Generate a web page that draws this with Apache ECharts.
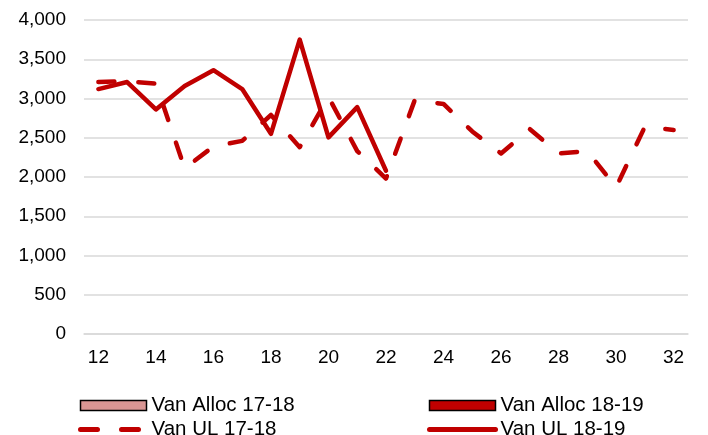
<!DOCTYPE html>
<html lang="en" style="height: 100%">
    <head>
        <meta charset="utf-8">
        <title>Van UL</title>
    </head>
    <body style="height: 100%; margin: 0; background: #fff">
        <div id="container" style="width: 708px; height: 435px"></div>
        <script src="https://cdn.jsdelivr.net/npm/echarts@6/dist/echarts.min.js"></script>
        <script>
            let weeks = ["12", "13", "14", "15", "16", "17", "18", "19", "20", "21", "22",
                "23", "24", "25", "26", "27", "28", "29", "30", "31", "32"];
            let vanUL1718 = [3210, 3220, 3190, 2110, 2390, 2460, 2790, 2380, 3020, 2330, 1980,
                2980, 2930, 2580, 2300, 2610, 2300, 2330, 1870, 2640, 2600];
            let vanUL1819 = [3120, 3210, 2860, 3160, 3360, 3120, 2550, 3750, 2505, 2890, 2080,
                null, null, null, null, null, null, null, null, null, null];
            let vanAlloc1718 = [];
            let vanAlloc1819 = [];

            let red = "#c00000";
            let font = "Liberation Sans, Arial, sans-serif";

            let dom = document.getElementById("container");
            let chart = echarts.init(dom, null, { renderer: "canvas" });

            let legendText = { fontSize: 20.5, fontFamily: font, color: "#000", lineHeight: 20 };

            function legendBlock(left, alloc, ul, allocColor, dash) {
                return {
                    orient: "vertical",
                    left: left,
                    top: 395,
                    height: 120,
                    padding: 0,
                    itemWidth: 66,
                    itemHeight: 10,
                    itemGap: 3,
                    textStyle: legendText,
                    data: [
                        { name: alloc, icon: "rect",
                          itemStyle: { color: allocColor, borderColor: "#000", borderWidth: 1.5 } },
                        { name: ul, itemStyle: { opacity: 0 },
                          lineStyle: { color: red, width: 5, type: dash, cap: "round" } }
                    ]
                };
            }

            let option = {
                animation: false,
                grid: { left: 84, right: 20, top: 20, bottom: 101 },
                legend: [
                    legendBlock(78, "Van Alloc 17-18", "Van UL 17-18", "#d99694", [17, 24]),
                    legendBlock(427, "Van Alloc 18-19", "Van UL 18-19", red, "solid")
                ],
                xAxis: {
                    type: "category",
                    data: weeks,
                    boundaryGap: true,
                    axisTick: { show: false },
                    axisLine: { lineStyle: { color: "#d9d9d9", width: 1.5 } },
                    axisLabel: {
                        interval: 1,
                        margin: 14,
                        fontSize: 19,
                        fontFamily: font,
                        color: "#000"
                    }
                },
                yAxis: {
                    type: "value",
                    min: 0,
                    max: 4000,
                    interval: 500,
                    axisLine: { show: false },
                    axisTick: { show: false },
                    splitLine: { lineStyle: { color: "#d9d9d9", width: 1.5 } },
                    axisLabel: {
                        margin: 18,
                        fontSize: 19,
                        fontFamily: font,
                        color: "#000",
                        formatter: function (v) {
                            return v.toLocaleString("en-US");
                        }
                    }
                },
                series: [
                    {
                        name: "Van Alloc 17-18",
                        type: "bar",
                        data: vanAlloc1718,
                        itemStyle: { color: "#d99694", borderColor: "#000", borderWidth: 1.5 }
                    },
                    {
                        name: "Van Alloc 18-19",
                        type: "bar",
                        data: vanAlloc1819,
                        itemStyle: { color: red, borderColor: "#000", borderWidth: 1.5 }
                    },
                    {
                        name: "Van UL 17-18",
                        type: "line",
                        data: vanUL1718,
                        symbol: "none",
                        itemStyle: { color: red },
                        lineStyle: { color: red, width: 4.5, type: [16, 24], cap: "round", join: "round" }
                    },
                    {
                        name: "Van UL 18-19",
                        type: "line",
                        data: vanUL1819,
                        symbol: "none",
                        itemStyle: { color: red },
                        lineStyle: { color: red, width: 4.5, cap: "round", join: "round" }
                    }
                ]
            };

            chart.setOption(option);
        </script>
    </body>
</html>
